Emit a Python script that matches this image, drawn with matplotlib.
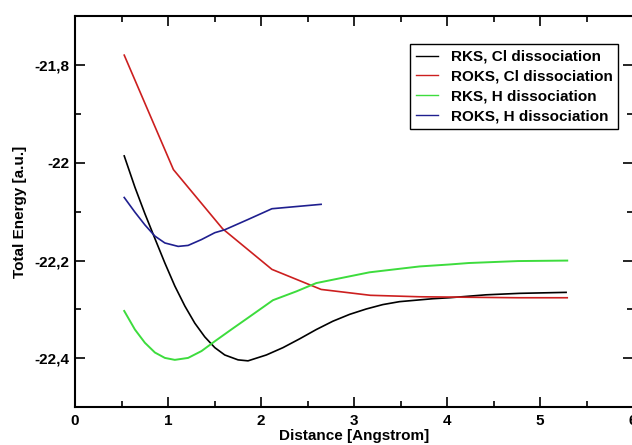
import matplotlib
matplotlib.use("Agg")
import matplotlib.pyplot as plt
from matplotlib.ticker import MultipleLocator, FuncFormatter

plt.rcParams["font.family"] = ["Liberation Sans", "DejaVu Sans"]
plt.rcParams["font.weight"] = "bold"

# RKS, Cl dissociation
rks_cl_x = [0.529, 0.644, 0.751, 0.859, 0.966, 1.073, 1.181, 1.288, 1.395, 1.503,
            1.61, 1.753, 1.86, 2.057, 2.236, 2.415, 2.594, 2.772, 2.952, 3.131,
            3.309, 3.488, 3.667, 3.846, 4.025, 4.42, 4.78, 5.28]
rks_cl_y = [-21.986, -22.050, -22.104, -22.155, -22.205, -22.252, -22.293, -22.328,
            -22.356, -22.378, -22.393, -22.403, -22.405, -22.393, -22.378, -22.360,
            -22.341, -22.324, -22.310, -22.299, -22.290, -22.284, -22.281, -22.278,
            -22.276, -22.270, -22.267, -22.265]

# ROKS, Cl dissociation
roks_cl_x = [0.529, 1.058, 1.587, 2.117, 2.646, 3.175, 3.704, 4.233, 4.763, 5.292]
roks_cl_y = [-21.780, -22.014, -22.135, -22.218, -22.259, -22.271, -22.274, -22.275,
             -22.276, -22.276]

# RKS, H dissociation
rks_h_x = [0.529, 0.644, 0.751, 0.859, 0.966, 1.073, 1.216, 1.36, 1.503, 1.68, 1.86,
           2.039, 2.128, 2.38, 2.594, 3.166, 3.704, 4.025, 4.233, 4.763, 5.292]
rks_h_y = [-22.303, -22.341, -22.368, -22.388, -22.399, -22.403, -22.399, -22.385,
           -22.365, -22.341, -22.317, -22.293, -22.281, -22.263, -22.246, -22.224,
           -22.212, -22.208, -22.205, -22.201, -22.200]

# ROKS, H dissociation
roks_h_x = [0.529, 0.644, 0.751, 0.859, 0.966, 1.109, 1.216, 1.36, 1.503, 1.61, 1.86,
            2.117, 2.646]
roks_h_y = [-22.071, -22.101, -22.127, -22.150, -22.164, -22.171, -22.169, -22.157,
            -22.143, -22.137, -22.116, -22.094, -22.085]

fig = plt.figure(figsize=(6.32, 4.45), dpi=100)
# axes run slightly past the right edge, like the cropped original
ax = fig.add_axes([0.1187, 0.0847, 0.883, 0.8793])

ax.plot(rks_cl_x, rks_cl_y, color="black", lw=1.2, label="RKS, Cl dissociation")
ax.plot(roks_cl_x, roks_cl_y, color="#cc1f1f", lw=1.2, label="ROKS, Cl dissociation")
ax.plot(rks_h_x, rks_h_y, color="#3ddc3d", lw=1.4, label="RKS, H dissociation")
ax.plot(roks_h_x, roks_h_y, color="#1f1f8f", lw=1.2, label="ROKS, H dissociation")

ax.set_xlim(0, 6)
ax.set_ylim(-22.5, -21.7)
ax.xaxis.set_major_locator(MultipleLocator(1))
ax.xaxis.set_minor_locator(MultipleLocator(0.5))
ax.yaxis.set_major_locator(MultipleLocator(0.2))
ax.yaxis.set_minor_locator(MultipleLocator(0.1))
ax.yaxis.set_major_formatter(FuncFormatter(lambda v, p: f"{v:g}".replace(".", ",")))

ax.tick_params(which="both", direction="in", top=True, right=True, width=1.2,
               labelsize=11)
ax.tick_params(which="major", length=7)
ax.tick_params(which="minor", length=4)
ax.tick_params(axis="x", pad=5)
ax.tick_params(axis="y", pad=4)
for s in ax.spines.values():
    s.set_linewidth(1.5)

ax.set_xlabel("Distance [Angstrom]", fontsize=11, fontweight="bold")
ax.set_ylabel("Total Energy [a.u.]", fontsize=11, fontweight="bold")
ax.xaxis.set_label_coords(0.5, -0.056)
ax.yaxis.set_label_coords(-0.086, 0.5)

leg = ax.legend(loc="upper left", bbox_to_anchor=(0.600, 0.928), fontsize=11,
                frameon=True, fancybox=False, edgecolor="black", framealpha=1,
                handlelength=1.45, handletextpad=0.85, labelspacing=0.38,
                borderpad=0.38, borderaxespad=0)
leg.get_frame().set_linewidth(1.0)
for h in leg.get_lines():
    h.set_linewidth(1.0)

fig.savefig("out.png", dpi=100)
